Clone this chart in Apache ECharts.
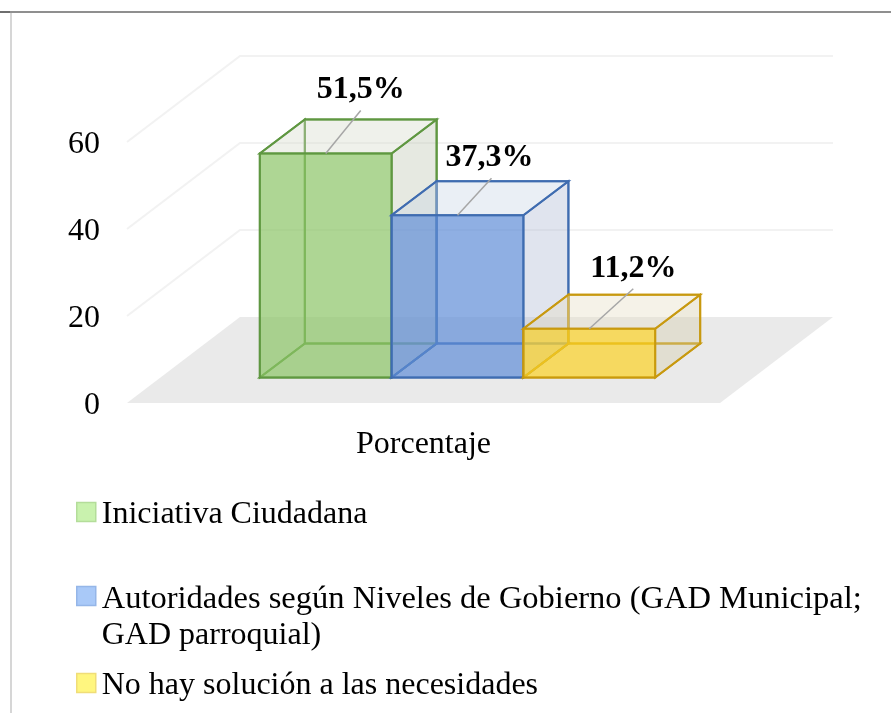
<!DOCTYPE html>
<html>
<head>
<meta charset="utf-8">
<style>
  html, body { margin: 0; padding: 0; background: #fff; }
  #chart { width: 891px; height: 713px; }
</style>
</head>
<body>
<div id="chart"></div>
<script src="https://cdn.jsdelivr.net/npm/echarts@6/dist/echarts.min.js"></script>
<script>
var categories = ["Porcentaje"];
var seriesNames = [
  "Iniciativa Ciudadana",
  "Autoridades según Niveles de Gobierno (GAD Municipal;\nGAD parroquial)",
  "No hay solución a las necesidades"
];
var seriesValues = [51.5, 37.3, 11.2];
var valueLabels = ["51,5%", "37,3%", "11,2%"];
var yTicks = [0, 20, 40, 60];

// colores de cada caja: frente, tapa, lado, borde, leyenda
var boxColors = [
  { front: "rgba(139,196,102,0.7)", top: "rgba(213,218,202,0.38)", side: "rgba(190,197,176,0.38)", edge: "#5f9741", key: "#c9f2ae", keyEdge: "#b4dd9a" },
  { front: "rgba(96,141,215,0.7)", top: "rgba(201,214,229,0.38)", side: "rgba(174,184,210,0.38)", edge: "#3f6cb0", key: "#a9c9f8", keyEdge: "#95b6e8" },
  { front: "rgba(251,210,37,0.7)", top: "rgba(229,221,195,0.38)", side: "rgba(210,203,168,0.38)", edge: "#c8990f", key: "#fff67f", keyEdge: "#f0dd78" }
];

// proyeccion de la perspectiva (px)
var floorDepth = [113, -86];
var boxStart = [34, -25.5];
var boxEnd = [79, -59.5];
// desplazamiento de cada etiqueta respecto al centro de la tapa frontal
var labelShift = [[35, -64], [32, -58], [44, -60]];
var leaderShift = [[35, -43], [34, -37], [44, -40]];

var serif = '"Liberation Serif", "Times New Roman", serif';
var myChart = echarts.init(document.getElementById("chart"));

function poly(points, fill, stroke, width) {
  return {
    type: "polygon",
    shape: { points: points },
    style: { fill: fill || "none", stroke: stroke || "none", lineWidth: width || 0, lineJoin: "miter" },
    silent: true
  };
}

function renderWalls(params, api) {
  var tick = api.value(0);
  var box = params.coordSys;
  var y = api.coord([0, tick])[1];
  var xl = box.x, xr = box.x + box.width;
  var dx = floorDepth[0], dy = floorDepth[1];
  if (tick === 0) {
    return poly([[xl, y], [xr, y], [xr + dx, y + dy], [xl + dx, y + dy]], "#eaeaea");
  }
  return {
    type: "polyline",
    shape: { points: [[xl, y], [xl + dx, y + dy], [xr + dx, y + dy]] },
    style: { fill: "none", stroke: "#f2f2f2", lineWidth: 2 },
    silent: true
  };
}

function renderBox(params, api) {
  var i = params.seriesIndex - 1;
  var c = boxColors[i];
  var val = api.value(1);
  var cx = api.coord([0, 0])[0];
  var y0 = api.coord([0, 0])[1];
  var y1 = api.coord([0, val])[1];
  var unit = api.size([1, 0])[0] / 4.5;
  var left = cx - 1.5 * unit + i * unit;
  var right = left + unit;

  // f = cara frontal, b = cara trasera
  var fx0 = left + boxStart[0], fx1 = right + boxStart[0];
  var fyB = y0 + boxStart[1], fyT = y1 + boxStart[1];
  var bx0 = left + boxEnd[0], bx1 = right + boxEnd[0];
  var byB = y0 + boxEnd[1], byT = y1 + boxEnd[1];

  var midX = (fx0 + fx1) / 2;
  return {
    type: "group",
    children: [
      poly([[bx0, byB], [bx1, byB], [bx1, byT], [bx0, byT]], null, c.edge, 2),
      poly([[fx0, fyB], [bx0, byB], [bx0, byT], [fx0, fyT]], null, c.edge, 2),
      poly([[fx0, fyB], [fx1, fyB], [bx1, byB], [bx0, byB]], null, c.edge, 2),
      poly([[fx1, fyB], [bx1, byB], [bx1, byT], [fx1, fyT]], c.side, c.edge, 2),
      poly([[fx0, fyT], [fx1, fyT], [bx1, byT], [bx0, byT]], c.top, c.edge, 2),
      poly([[fx0, fyB], [fx1, fyB], [fx1, fyT], [fx0, fyT]], c.front, c.edge, 2),
      {
        type: "line",
        shape: { x1: midX, y1: fyT, x2: midX + leaderShift[i][0], y2: fyT + leaderShift[i][1] },
        style: { stroke: "#a6a6a6", lineWidth: 1.5 },
        silent: true
      },
      {
        type: "text",
        style: {
          text: valueLabels[i],
          x: midX + labelShift[i][0],
          y: fyT + labelShift[i][1],
          font: "bold 32px " + serif,
          fill: "#000",
          align: "center",
          verticalAlign: "middle"
        },
        silent: true
      }
    ]
  };
}

var series = [{
  type: "custom",
  name: "fondo",
  silent: true,
  renderItem: renderWalls,
  data: yTicks.map(function (t) { return [t]; }),
  encode: { y: 0 }
}];
seriesNames.forEach(function (name, i) {
  series.push({
    type: "custom",
    name: name,
    silent: true,
    renderItem: renderBox,
    data: [[categories[0], seriesValues[i]]],
    encode: { x: 0, y: 1 }
  });
});

// el texto de una linea baja unos px; en dos lineas el cuadro queda junto a la primera
var legendRich = {
  t: { fontFamily: serif, fontSize: 32, color: "#000", lineHeight: 36, padding: [5, 0, 0, 1] },
  w: { fontFamily: serif, fontSize: 32.5, color: "#000", lineHeight: 36.5, padding: [0, 0, 0, 1] },
  u: { fontFamily: serif, fontSize: 32, color: "#000", lineHeight: 36.5, padding: [0, 0, 0, 1] },
  e: { fontSize: 1, lineHeight: 42.5 }
};

function legendName(name) {
  var lines = name.split("\n");
  if (lines.length === 1) return "{t|" + name + "}";
  return "{e| }\n{w|" + lines[0] + "}\n{u|" + lines[1] + "}";
}

function legendItem(i, top) {
  return {
    data: [{
      name: seriesNames[i],
      icon: "rect",
      itemStyle: { color: boxColors[i].key, borderColor: boxColors[i].keyEdge, borderWidth: 1.5 }
    }],
    left: 76,
    top: top,
    itemWidth: 19,
    itemHeight: 19,
    itemGap: 0,
    padding: 0,
    selectedMode: false,
    orient: "vertical",
    formatter: legendName,
    textStyle: { rich: legendRich }
  };
}

myChart.setOption({
  animation: false,
  backgroundColor: "#fff",
  grid: { left: 127, right: 171, top: 142, bottom: 310 },
  xAxis: {
    type: "category",
    data: categories,
    axisLine: { show: false },
    axisTick: { show: false },
    splitLine: { show: false },
    axisLabel: { fontFamily: serif, fontSize: 32, color: "#000", margin: 26 }
  },
  yAxis: {
    type: "value",
    min: 0,
    max: 60,
    interval: 20,
    axisLine: { show: false },
    axisTick: { show: false },
    splitLine: { show: false },
    axisLabel: {
      margin: 27,
      formatter: function (v) { return "{t|" + v + "}"; },
      rich: { t: { fontFamily: serif, fontSize: 32, color: "#000", padding: [6, 0, 0, 0] } }
    }
  },
  legend: [
    legendItem(0, 493.5),
    legendItem(1, 559),
    legendItem(2, 664.5)
  ],
  graphic: [
    { type: "rect", shape: { x: 0, y: 11, width: 10, height: 2 }, style: { fill: "#6e6e6e" }, silent: true },
    { type: "rect", shape: { x: 10, y: 11, width: 881, height: 2 }, style: { fill: "#8f8f8f" }, silent: true },
    { type: "rect", shape: { x: 10, y: 13, width: 2, height: 700 }, style: { fill: "#d6d6d6" }, silent: true }
  ],
  series: series
});
</script>
</body>
</html>
